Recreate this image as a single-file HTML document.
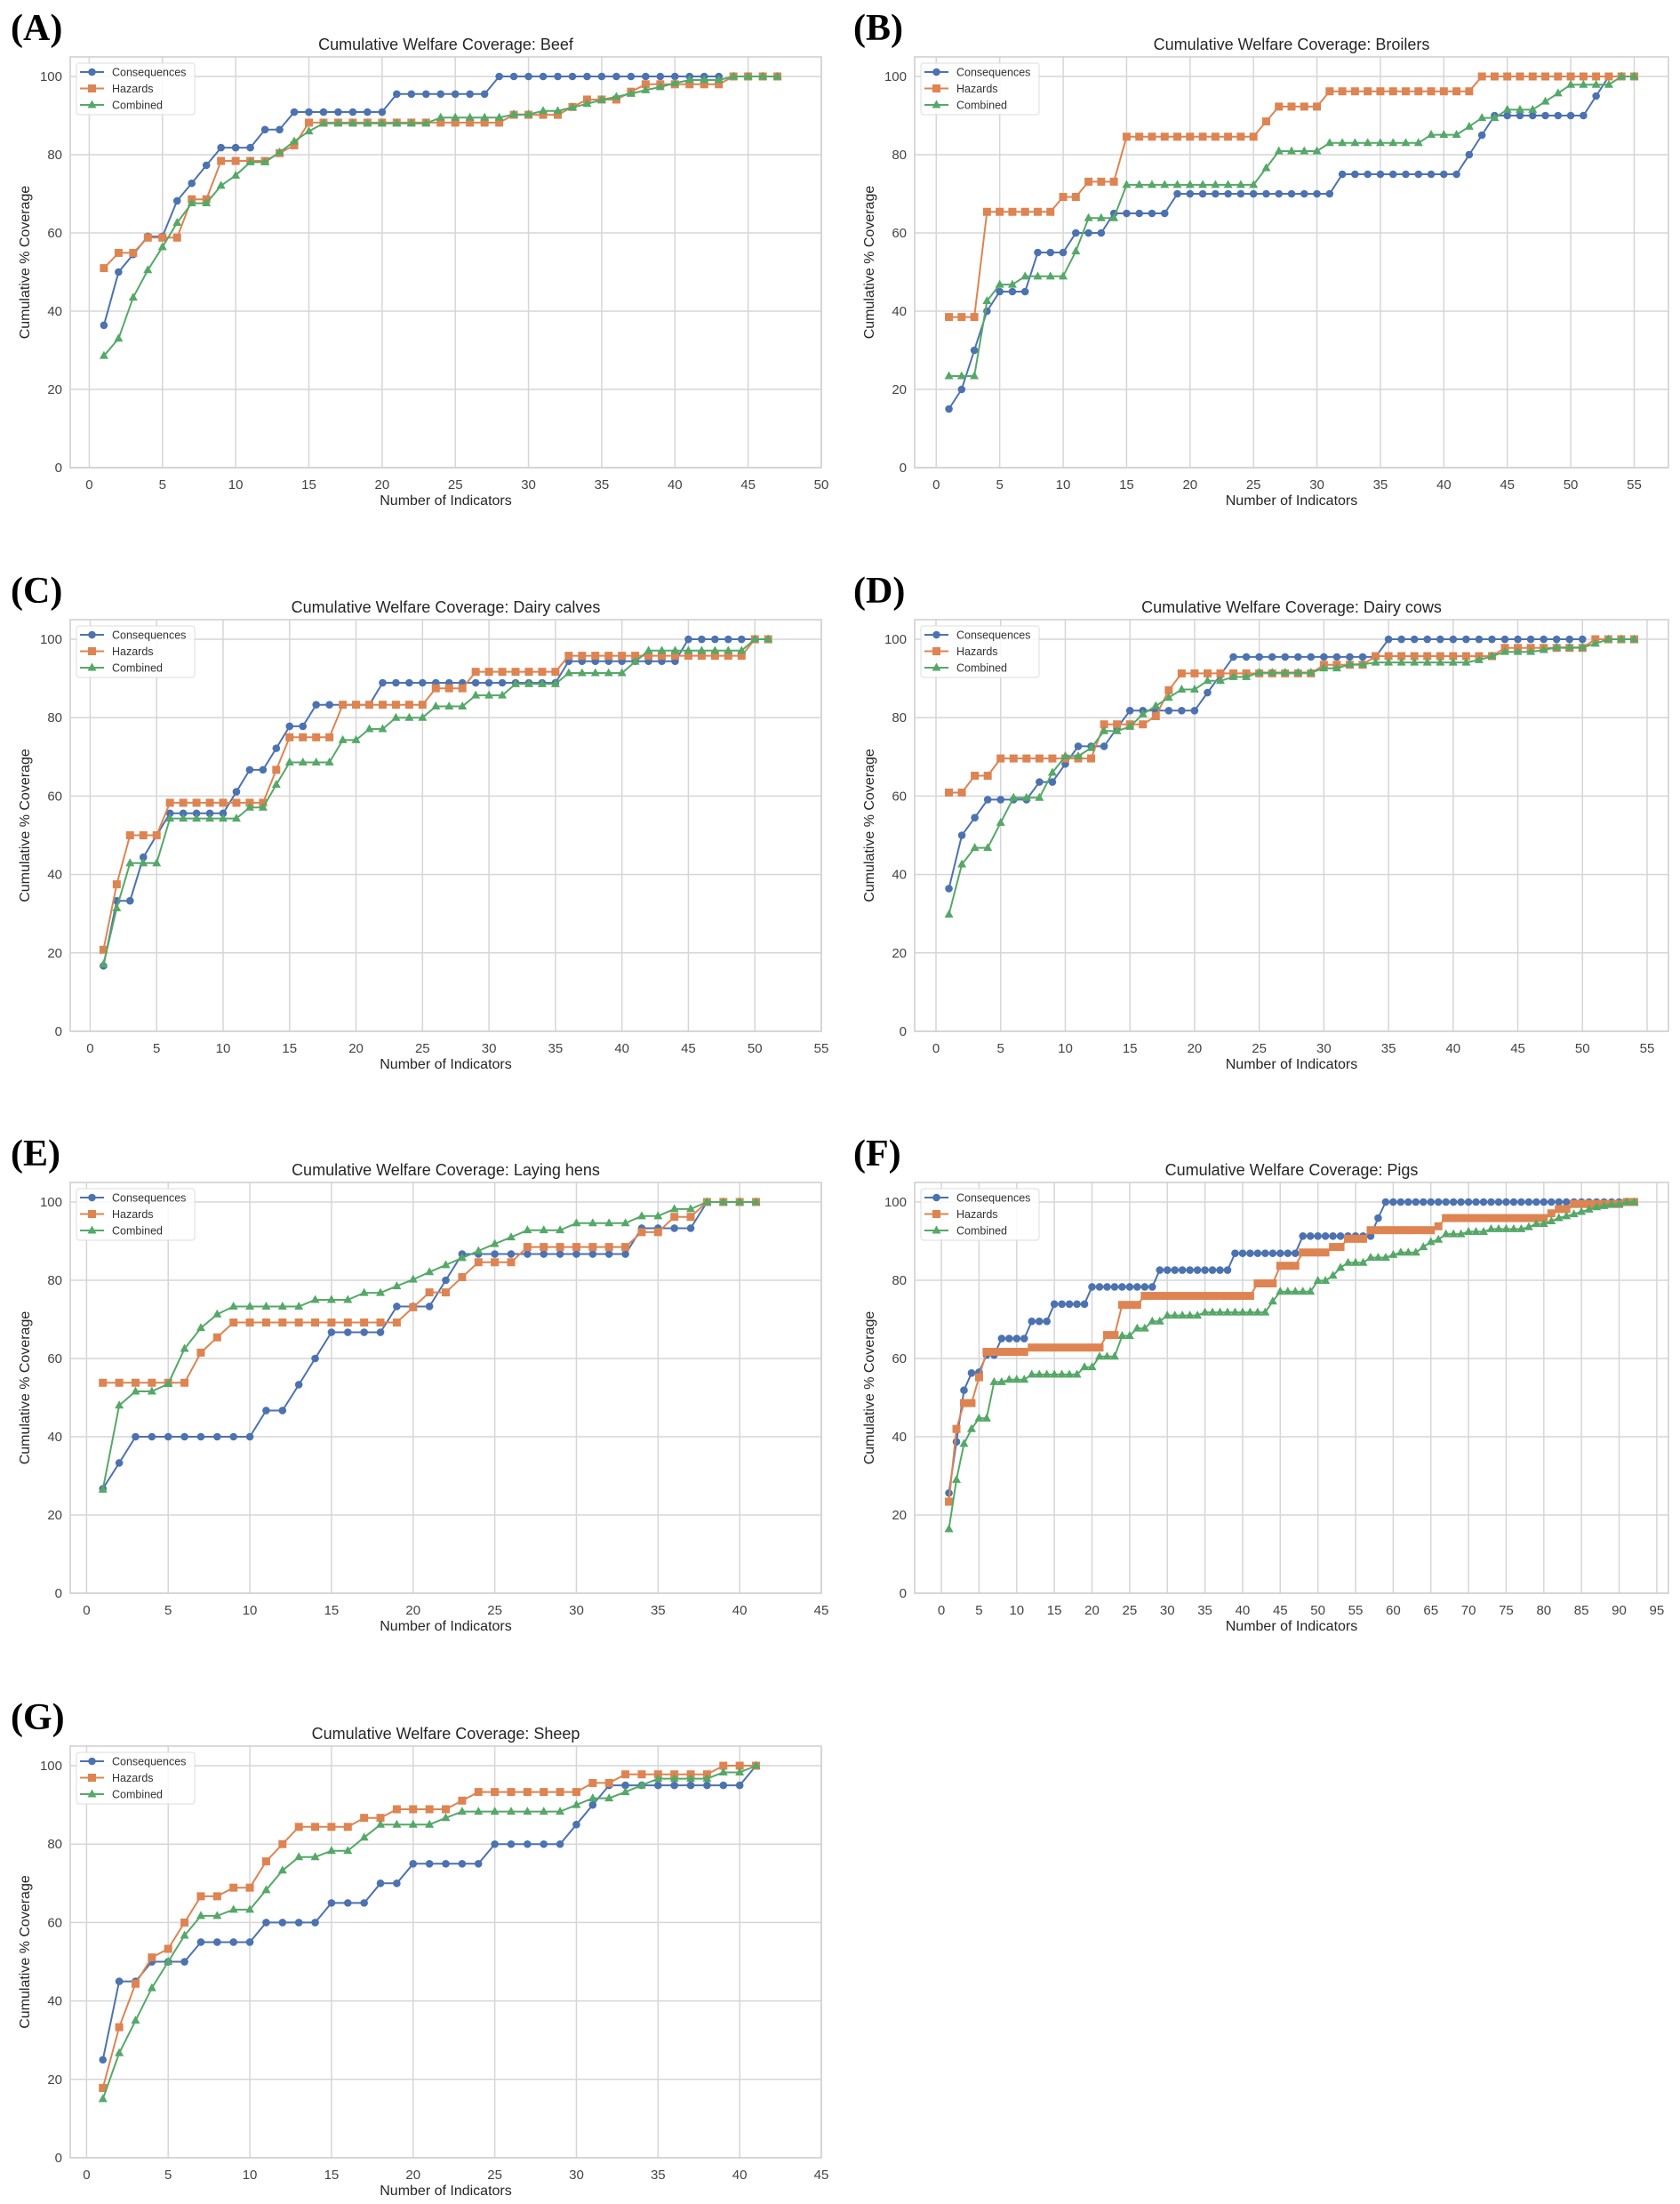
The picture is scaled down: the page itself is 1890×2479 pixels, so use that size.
<!DOCTYPE html>
<html><head><meta charset="utf-8"><style>
html,body{margin:0;padding:0;background:#fff;}
svg{display:block;font-family:"Liberation Sans",Arial,sans-serif;}
</style></head><body>
<svg id="fig" width="1890" height="2479" viewBox="0 0 1890 2479" xmlns="http://www.w3.org/2000/svg">
<rect x="0" y="0" width="1890" height="2479" fill="#fff"/>
</svg>
<script>
// ---------- data ----------
const beefCons=[36.4,50,54.5,59.1,59.1,68.2,72.7,77.3,81.8,81.8,81.8,86.4,86.4,90.9,90.9,90.9,90.9,90.9,90.9,90.9,95.5,95.5,95.5,95.5,95.5,95.5,95.5,100,100,100,100,100,100,100,100,100,100,100,100,100,100,100,100];
const beefHaz=[51,54.9,54.9,58.8,58.8,58.8,68.6,68.6,78.4,78.4,78.4,78.4,80.4,82.4,88.2,88.2,88.2,88.2,88.2,88.2,88.2,88.2,88.2,88.2,88.2,88.2,88.2,88.2,90.2,90.2,90.2,90.2,92.2,94.1,94.1,94.1,96.1,98,98,98,98,98,98,100,100,100,100];
const beefComb=[28.6,33,43.5,50.5,56.4,62.6,67.6,67.6,72.1,74.7,78.1,78.1,80.6,83.4,86,88,88,88,88,88,88,88,88,89.5,89.5,89.5,89.5,89.5,90.3,90.3,91.2,91.2,92.1,93,94,94.8,95.6,96.5,97.3,98.3,99.1,99.1,99.1,100,100,100,100];

const broCons=[15,20,30,40,45,45,45,55,55,55,60,60,60,65,65,65,65,65,70,70,70,70,70,70,70,70,70,70,70,70,70,75,75,75,75,75,75,75,75,75,75,80,85,90,90,90,90,90,90,90,90,95,100];
const broHaz=[38.5,38.5,38.5,65.4,65.4,65.4,65.4,65.4,65.4,69.2,69.2,73.1,73.1,73.1,84.6,84.6,84.6,84.6,84.6,84.6,84.6,84.6,84.6,84.6,84.6,88.5,92.3,92.3,92.3,92.3,96.2,96.2,96.2,96.2,96.2,96.2,96.2,96.2,96.2,96.2,96.2,96.2,100,100,100,100,100,100,100,100,100,100,100,100,100];
const broComb=[23.4,23.4,23.4,42.6,46.8,46.8,48.9,48.9,48.9,48.9,55.3,63.8,63.8,63.8,72.3,72.3,72.3,72.3,72.3,72.3,72.3,72.3,72.3,72.3,72.3,76.6,80.9,80.9,80.9,80.9,83,83,83,83,83,83,83,83,85.1,85.1,85.1,87.2,89.4,89.4,91.5,91.5,91.5,93.6,95.7,97.9,97.9,97.9,97.9,100,100];

const calfCons=[16.7,33.3,33.3,44.4,50,55.6,55.6,55.6,55.6,55.6,61.1,66.7,66.7,72.2,77.8,77.8,83.3,83.3,83.3,83.3,83.3,88.9,88.9,88.9,88.9,88.9,88.9,88.9,88.9,88.9,88.9,88.9,88.9,88.9,88.9,94.4,94.4,94.4,94.4,94.4,94.4,94.4,94.4,94.4,100,100,100,100,100,100];
const calfHaz=[20.8,37.5,50,50,50,58.3,58.3,58.3,58.3,58.3,58.3,58.3,58.3,66.7,75,75,75,75,83.3,83.3,83.3,83.3,83.3,83.3,83.3,87.5,87.5,87.5,91.7,91.7,91.7,91.7,91.7,91.7,91.7,95.8,95.8,95.8,95.8,95.8,95.8,95.8,95.8,95.8,95.8,95.8,95.8,95.8,95.8,100,100];
const calfComb=[17.1,31.4,42.9,42.9,42.9,54.3,54.3,54.3,54.3,54.3,54.3,57.1,57.1,62.9,68.6,68.6,68.6,68.6,74.3,74.3,77.1,77.1,80,80,80,82.9,82.9,82.9,85.7,85.7,85.7,88.6,88.6,88.6,88.6,91.4,91.4,91.4,91.4,91.4,94.3,97.1,97.1,97.1,97.1,97.1,97.1,97.1,97.1,100,100];

const cowCons=[36.4,50,54.5,59.1,59.1,59.1,59.1,63.6,63.6,68.2,72.7,72.7,72.7,77.3,81.8,81.8,81.8,81.8,81.8,81.8,86.4,90.9,95.5,95.5,95.5,95.5,95.5,95.5,95.5,95.5,95.5,95.5,95.5,95.5,100,100,100,100,100,100,100,100,100,100,100,100,100,100,100,100];
const cowHaz=[60.9,60.9,65.2,65.2,69.6,69.6,69.6,69.6,69.6,69.6,69.6,69.6,78.3,78.3,78.3,78.3,80.4,87,91.3,91.3,91.3,91.3,91.3,91.3,91.3,91.3,91.3,91.3,91.3,93.5,93.5,93.5,93.5,95.7,95.7,95.7,95.7,95.7,95.7,95.7,95.7,95.7,95.7,97.8,97.8,97.8,97.8,97.8,97.8,97.8,100,100,100,100];
const cowComb=[29.8,42.6,46.8,46.8,53.2,59.6,59.6,59.6,66,70.2,70.2,72.3,76.6,76.6,77.7,80.9,83,85.1,87.2,87.2,89.4,89.4,90.4,90.4,91.5,91.5,91.5,91.5,91.5,92.6,92.6,93.6,93.6,94.1,94.1,94.1,94.1,94.1,94.1,94.1,94.1,94.7,95.7,96.8,96.8,96.8,97.3,97.9,97.9,97.9,98.9,100,100,100];

const henCons=[26.7,33.3,40,40,40,40,40,40,40,40,46.7,46.7,53.3,60,66.7,66.7,66.7,66.7,73.3,73.3,73.3,80,86.7,86.7,86.7,86.7,86.7,86.7,86.7,86.7,86.7,86.7,86.7,93.3,93.3,93.3,93.3,100,100,100,100];
const henHaz=[53.8,53.8,53.8,53.8,53.8,53.8,61.5,65.4,69.2,69.2,69.2,69.2,69.2,69.2,69.2,69.2,69.2,69.2,69.2,73.1,76.9,76.9,80.8,84.6,84.6,84.6,88.5,88.5,88.5,88.5,88.5,88.5,88.5,92.3,92.3,96.2,96.2,100,100,100,100];
const henComb=[26.5,48,51.6,51.6,53.5,62.5,67.8,71.3,73.3,73.3,73.3,73.3,73.3,75,75,75,76.8,76.8,78.5,80.2,82.1,83.9,85.7,87.5,89.3,91,92.8,92.8,92.8,94.6,94.6,94.6,94.6,96.4,96.4,98.2,98.2,100,100,100,100];

const pigCons=[25.6,38.7,51.9,56.3,56.5,60.9,60.9,65.1,65.1,65.1,65.1,69.5,69.5,69.5,73.9,73.9,73.9,73.9,73.9,78.3,78.3,78.3,78.3,78.3,78.3,78.3,78.3,78.3,82.6,82.6,82.6,82.6,82.6,82.6,82.6,82.6,82.6,82.6,86.9,86.9,86.9,86.9,86.9,86.9,86.9,86.9,86.9,91.3,91.3,91.3,91.3,91.3,91.3,91.3,91.3,91.3,91.3,95.9,100,100,100,100,100,100,100,100,100,100,100,100,100,100,100,100,100,100,100,100,100,100,100,100,100,100,100,100,100,100,100,100];
const pigHaz=[23.4,42,48.6,48.6,55.2,61.7,61.7,61.7,61.7,61.7,61.7,62.8,62.8,62.8,62.8,62.8,62.8,62.8,62.8,62.8,62.8,66,66,73.7,73.7,73.7,76,76,76,76,76,76,76,76,76,76,76,76,76,76,76,79.2,79.2,79.2,83.7,83.7,83.7,87.1,87.1,87.1,87.1,88.5,88.5,90.6,90.6,90.6,92.8,92.8,92.8,92.8,92.8,92.8,92.8,92.8,92.8,93.8,95.9,95.9,95.9,95.9,95.9,95.9,95.9,95.9,95.9,95.9,95.9,95.9,95.9,95.9,97.1,98.2,98.2,99.5,99.5,99.5,99.5,99.5,99.5,99.5,100,100];
const pigComb=[16.4,29,38.2,42,44.7,44.7,54,54,54.6,54.6,54.6,55.9,55.9,55.9,55.9,55.9,55.9,55.9,57.8,57.8,60.5,60.5,60.5,65.8,65.8,67.7,67.7,69.5,69.5,71,71,71,71,71,71.8,71.8,71.8,71.8,71.8,71.8,71.8,71.8,71.8,74.6,77.1,77.1,77.1,77.1,77.1,79.9,79.9,81.2,83.2,84.5,84.5,84.5,85.8,85.8,85.8,86.5,87.1,87.1,87.1,88.5,89.8,90.4,91.8,91.8,91.8,92.4,92.4,92.4,93.1,93.1,93.1,93.1,93.1,93.6,94.4,94.4,95.1,95.9,96.4,96.9,97.5,98.1,98.7,99,99.4,99.4,100,100];

const sheepCons=[25,45,45,50,50,50,55,55,55,55,60,60,60,60,65,65,65,70,70,75,75,75,75,75,80,80,80,80,80,85,90,95,95,95,95,95,95,95,95,95,100];
const sheepHaz=[17.8,33.3,44.4,51.1,53.3,60,66.7,66.7,68.9,68.9,75.6,80,84.4,84.4,84.4,84.4,86.7,86.7,88.9,88.9,88.9,88.9,91.1,93.3,93.3,93.3,93.3,93.3,93.3,93.3,95.6,95.6,97.8,97.8,97.8,97.8,97.8,97.8,100,100,100];
const sheepComb=[15,26.7,35,43.3,50,56.7,61.7,61.7,63.3,63.3,68.3,73.3,76.7,76.7,78.3,78.3,81.7,85,85,85,85,86.7,88.3,88.3,88.3,88.3,88.3,88.3,88.3,90,91.7,91.7,93.3,95,96.7,96.7,96.7,96.7,98.3,98.3,100];

const yTicks=[0,20,40,60,80,100];
const seriesNames=["Consequences","Hazards","Combined"];

// ---------- layout ----------
const NS="http://www.w3.org/2000/svg";
const svg=document.getElementById("fig");
const COLORS=["#4c72b0","#dd8452","#55a868"];
const LEFT={x0:79,x1:924}, RIGHT={x0:1029,x1:1877};
const ROWS=[[64,526],[697,1160],[1330,1792],[1964,2427]];

function mk(tag,attrs,parent){const e=document.createElementNS(NS,tag);for(const k in attrs)e.setAttribute(k,attrs[k]);(parent||svg).appendChild(e);return e;}

function panel(cfg){
  const {letter,slug,title,col,row,xmin,xmax,xtickMax,series}=cfg;
  const X0=col.x0,X1=col.x1,Y0=ROWS[row][0],Y1=ROWS[row][1];
  const g=mk("g",{});
  
  
  const xs=v=>X0+(v-xmin)/(xmax-xmin)*(X1-X0);
  const ys=v=>Y1-(v/105)*(Y1-Y0);
  // panel letter
  const L=mk("text",{x:col===LEFT?12:960,y:Y0-19,"font-family":"Liberation Serif,serif","font-weight":"bold","font-size":42,fill:"#000"},g);
  L.textContent="("+letter+")";
  
  
  // title
  const T=mk("text",{x:(X0+X1)/2,y:Y0-8,"text-anchor":"middle","font-size":18,fill:"#262626"},g);
  T.textContent="Cumulative Welfare Coverage: "+title;
  
  
  // grid
  const grid=mk("g",{stroke:"#d6d6d6","stroke-width":1.5},g);
  
  
  for(const t of yTicks){
    mk("line",{x1:X0,x2:X1,y1:ys(t),y2:ys(t)},grid);
    const tl=mk("text",{x:X0-9,y:ys(t)+5,"text-anchor":"end","font-size":15,fill:"#444"},g);
    tl.textContent=t;
    
    
  }
  for(let t=0;t<=xtickMax;t+=5){
    mk("line",{x1:xs(t),x2:xs(t),y1:Y0,y2:Y1},grid);
    const tl=mk("text",{x:xs(t),y:Y1+24,"text-anchor":"middle","font-size":15,fill:"#444"},g);
    tl.textContent=t;
    
    
  }
  const fr=mk("rect",{x:X0,y:Y0,width:X1-X0,height:Y1-Y0,fill:"none",stroke:"#d0d0d0","stroke-width":1.6},g);
  
  
  // axis labels
  const xl=mk("text",{x:(X0+X1)/2,y:Y1+42,"text-anchor":"middle","font-size":16,fill:"#262626"},g);
  xl.textContent="Number of Indicators";
  
  
  const yl=mk("text",{x:0,y:0,"text-anchor":"middle","font-size":16,fill:"#262626",transform:`translate(${X0-46},${(Y0+Y1)/2}) rotate(-90)`},g);
  yl.textContent="Cumulative % Coverage";
  
  
  // series
  series.forEach((vals,si)=>{
    const sg=mk("g",{},g);
    
    
    const pts=vals.map((v,i)=>xs(i+1).toFixed(1)+","+ys(v).toFixed(1)).join(" ");
    const pl=mk("polyline",{points:pts,fill:"none",stroke:COLORS[si],"stroke-width":2},sg);
    
    
    vals.forEach((v,i)=>{
      const cx=xs(i+1),cy=ys(v);
      let m;
      if(si===0)m=mk("circle",{cx:cx,cy:cy,r:4.3,fill:COLORS[0]},sg);
      else if(si===1)m=mk("rect",{x:cx-4.5,y:cy-4.5,width:9,height:9,fill:COLORS[1]},sg);
      else m=mk("polygon",{points:`${cx},${cy-5.5} ${cx+5},${cy+3.5} ${cx-5},${cy+3.5}`,fill:COLORS[2]},sg);
      
      
    });
  });
  // legend
  const lg=mk("g",{},g);
  
  
  mk("rect",{x:X0+7,y:Y0+7,width:133,height:58,rx:3,fill:"#fff","fill-opacity":0.85,stroke:"#ddd","stroke-width":1},lg);
  seriesNames.forEach((n,si)=>{
    const ey=Y0+17+si*18.5;
    const e=mk("g",{},lg);
    
    
    mk("line",{x1:X0+11,x2:X0+38,y1:ey,y2:ey,stroke:COLORS[si],"stroke-width":2},e);
    const cx=X0+24.5;
    if(si===0)mk("circle",{cx:cx,cy:ey,r:4.3,fill:COLORS[0]},e);
    else if(si===1)mk("rect",{x:cx-4.5,y:ey-4.5,width:9,height:9,fill:COLORS[1]},e);
    else mk("polygon",{points:`${cx},${ey-5.5} ${cx+5},${ey+3.5} ${cx-5},${ey+3.5}`,fill:COLORS[2]},e);
    const t=mk("text",{x:X0+47,y:ey+4.5,"font-size":12.5,fill:"#333"},e);
    t.textContent=n;
  });
}

panel({letter:"A",slug:"beef",title:"Beef",col:LEFT,row:0,xmin:-1.3,xmax:50,xtickMax:50,series:[beefCons,beefHaz,beefComb]});
panel({letter:"B",slug:"broilers",title:"Broilers",col:RIGHT,row:0,xmin:-1.7,xmax:57.7,xtickMax:55,series:[broCons,broHaz,broComb]});
panel({letter:"C",slug:"dairy-calves",title:"Dairy calves",col:LEFT,row:1,xmin:-1.5,xmax:55,xtickMax:55,series:[calfCons,calfHaz,calfComb]});
panel({letter:"D",slug:"dairy-cows",title:"Dairy cows",col:RIGHT,row:1,xmin:-1.65,xmax:56.65,xtickMax:55,series:[cowCons,cowHaz,cowComb]});
panel({letter:"E",slug:"laying-hens",title:"Laying hens",col:LEFT,row:2,xmin:-1,xmax:45,xtickMax:45,series:[henCons,henHaz,henComb]});
panel({letter:"F",slug:"pigs",title:"Pigs",col:RIGHT,row:2,xmin:-3.55,xmax:96.55,xtickMax:95,series:[pigCons,pigHaz,pigComb]});
panel({letter:"G",slug:"sheep",title:"Sheep",col:LEFT,row:3,xmin:-1,xmax:45,xtickMax:45,series:[sheepCons,sheepHaz,sheepComb]});
</script>
</body></html>
